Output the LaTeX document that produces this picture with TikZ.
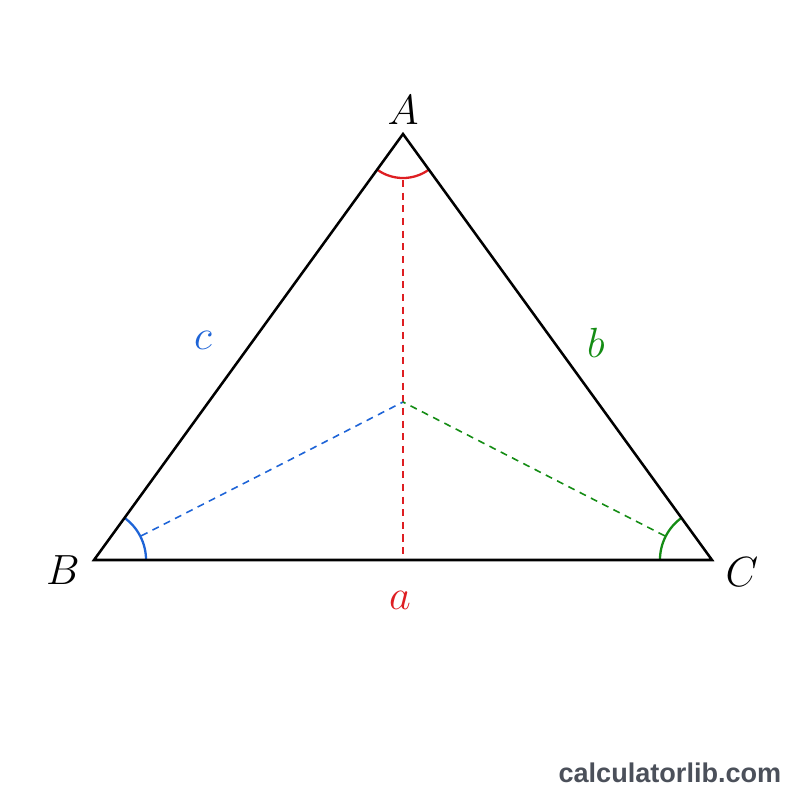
\documentclass[tikz,border=0pt]{standalone}
\usepackage{fontspec}
\newfontfamily\wmfont{Liberation Sans}
\usetikzlibrary{calc}
\definecolor{angred}{RGB}{222,30,34}
\definecolor{angblue}{RGB}{30,100,215}
\definecolor{anggreen}{RGB}{20,140,20}
\definecolor{wmgray}{RGB}{75,80,90}
\tikzset{
  side/.style={line width=0.72pt, black, line join=miter},
  anglearc/.style={line width=0.65pt},
  bisector/.style={line width=0.45pt, dash pattern=on 2pt off 1.6pt},
  vlabel/.style={font=\fontsize{11.9}{14}\selectfont, inner sep=0pt},
}
\begin{document}
\begin{tikzpicture}[x=0.01cm,y=0.01cm]
\useasboundingbox (0,0) rectangle (800,800);
\coordinate (A) at (403,666);
\coordinate (B) at (94,240);
\coordinate (C) at (712,240);
\coordinate (I) at (403,398);
\coordinate (D) at (403,241);
% bisectors
\draw[bisector, angred] ($(A)!0.46cm!(D)$) -- (D);
\draw[bisector, angblue] ($(B)!0.53cm!(I)$) -- (I);
\draw[bisector, anggreen] ($(C)!0.53cm!(I)$) -- (I);
% angle arcs
\draw[anglearc, angred] ($(A)!0.44cm!(B)$) arc[start angle=234.05, end angle=305.95, radius=0.44cm];
\draw[anglearc, angblue] ($(B)!0.52cm!(C)$) arc[start angle=0, end angle=54.05, radius=0.52cm];
\draw[anglearc, anggreen] ($(C)!0.52cm!(A)$) arc[start angle=125.95, end angle=180, radius=0.52cm];
% triangle
\draw[side] (A) -- (B) -- (C) -- cycle;
% labels
\node[vlabel] (lA) at (403,690) {$A$};
\node[vlabel] (lB) at (63,230) {$B$};
\node[vlabel] (lC) at (742,228) {$C$};
\node[vlabel, text=angred] (la) at (400,200) {$a$};
\node[vlabel, text=anggreen] (lb) at (596,457) {$b$};
\node[vlabel, text=angblue] (lc) at (203,460) {$c$};
\node[anchor=base east, inner sep=0pt, text=wmgray, font=\wmfont\bfseries\fontsize{7.7}{9}\selectfont] (wm) at (782,18) {calculatorlib.com};
\end{tikzpicture}
\end{document}
